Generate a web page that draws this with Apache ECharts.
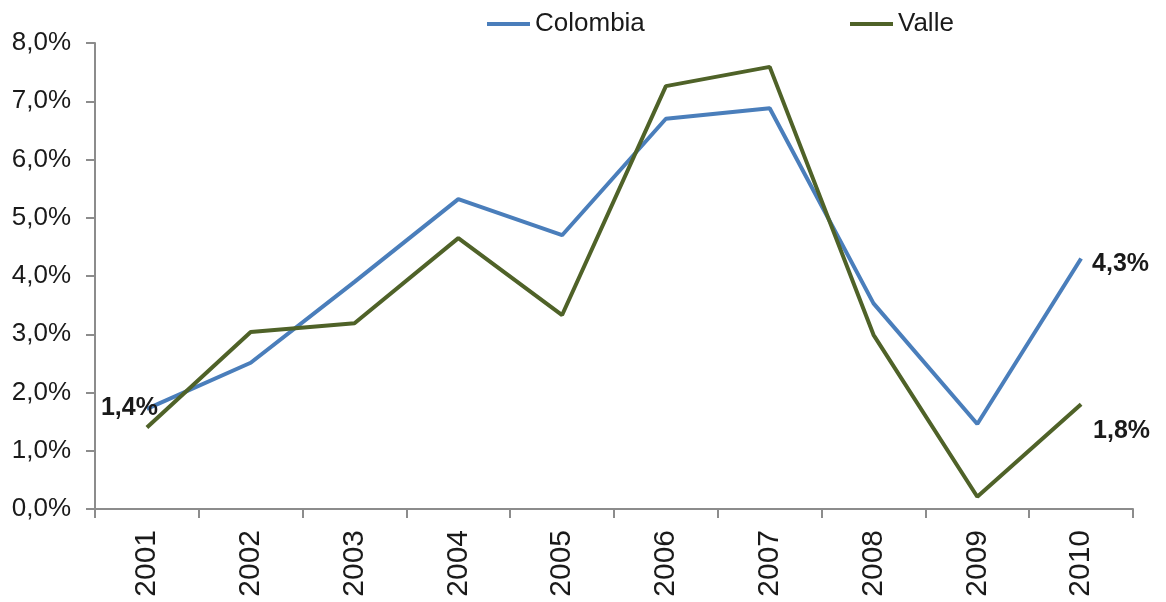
<!DOCTYPE html>
<html>
<head>
<meta charset="utf-8">
<script src="https://cdn.jsdelivr.net/npm/echarts@6/dist/echarts.min.js"></script>
<style>
  html, body { margin: 0; padding: 0; background: #fff; }
  #chart { width: 1166px; height: 602px; }
</style>
</head>
<body>
<div id="chart"></div>
<script>
// Annual growth (%), Colombia vs. Valle, 2001-2010
const years = ['2001', '2002', '2003', '2004', '2005', '2006', '2007', '2008', '2009', '2010'];
const colombia = [1.72, 2.51, 3.9, 5.32, 4.7, 6.7, 6.88, 3.53, 1.46, 4.3];
const valle = [1.4, 3.04, 3.19, 4.65, 3.33, 7.26, 7.59, 2.99, 0.21, 1.8];
const yTicks = [0, 1, 2, 3, 4, 5, 6, 7, 8];

// Points carrying a value label: [series, index, position, offset]
const labelled = [
  ['Valle', 0, 'left', [16, -19]],
  ['Colombia', 9, 'right', [6, 6]],
  ['Valle', 9, 'right', [7, 27]]
];

const SANS = '"Liberation Sans", Arial, sans-serif';
const TEXT = '#1a1a1a';

const fmt = v => v.toFixed(1).replace('.', ',') + '%';

function buildData(name, values) {
  return values.map((v, i) => {
    const hit = labelled.find(l => l[0] === name && l[1] === i);
    if (!hit) return v;
    return {
      value: v,
      label: {
        show: true,
        position: hit[2],
        offset: hit[3],
        formatter: p => fmt(p.value),
        fontFamily: SANS,
        fontWeight: 'bold',
        fontSize: 25,
        color: TEXT
      }
    };
  });
}

const chart = echarts.init(document.getElementById('chart'), null, { renderer: 'canvas' });

const legendCommon = {
  top: 11,
  padding: 0,
  icon: 'rect',
  itemWidth: 43,
  itemHeight: 4,
  itemGap: 10,
  textStyle: { fontFamily: SANS, fontSize: 26, color: TEXT, padding: [0, 0, 0, 0] },
  selectedMode: false
};

chart.setOption({
  animation: false,
  backgroundColor: '#fff',
  grid: { left: 95, right: 33, top: 43, bottom: 93, containLabel: false },
  legend: [
    Object.assign({ data: ['Colombia'], left: 487 }, legendCommon),
    Object.assign({ data: ['Valle'], left: 850 }, legendCommon)
  ],
  xAxis: {
    type: 'category',
    data: years,
    boundaryGap: true,
    axisLine: { lineStyle: { color: '#8c8c8c', width: 2 } },
    axisTick: { show: true, length: 9, lineStyle: { color: '#8c8c8c', width: 2 } },
    axisLabel: {
      rotate: 90,
      margin: 21,
      fontFamily: SANS,
      fontSize: 30,
      color: TEXT
    },
    splitLine: { show: false }
  },
  yAxis: {
    type: 'value',
    min: yTicks[0],
    max: yTicks[yTicks.length - 1],
    interval: 1,
    axisLine: { show: true, lineStyle: { color: '#8c8c8c', width: 2 } },
    axisTick: { show: true, length: 9, lineStyle: { color: '#8c8c8c', width: 2 } },
    axisLabel: {
      margin: 24,
      formatter: v => fmt(v),
      fontFamily: SANS,
      fontSize: 26,
      color: TEXT
    },
    splitLine: { show: false }
  },
  series: [
    {
      name: 'Colombia',
      type: 'line',
      data: buildData('Colombia', colombia),
      symbol: 'circle',
      symbolSize: 0,
      showSymbol: true,
      color: '#4a7ebb',
      lineStyle: { color: '#4a7ebb', width: 4 },
      z: 2
    },
    {
      name: 'Valle',
      type: 'line',
      data: buildData('Valle', valle),
      symbol: 'circle',
      symbolSize: 0,
      showSymbol: true,
      color: '#4f6228',
      lineStyle: { color: '#4f6228', width: 4 },
      z: 3
    }
  ]
});
</script>
</body>
</html>
